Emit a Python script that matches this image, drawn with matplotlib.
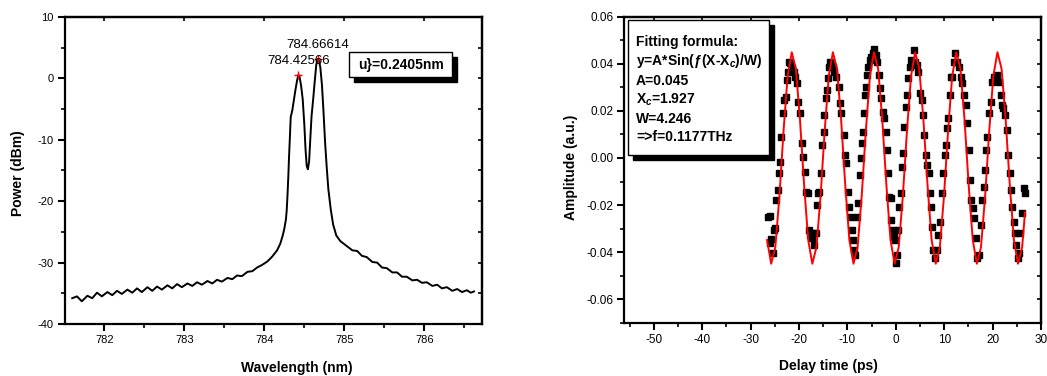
import matplotlib
matplotlib.use("Agg")
import matplotlib.pyplot as plt
from matplotlib.patches import Rectangle
from matplotlib.ticker import MultipleLocator

plt.rcParams['font.family'] = ['Liberation Sans', 'DejaVu Sans']
plt.rcParams['axes.unicode_minus'] = False
plt.rcParams['mathtext.fontset'] = 'custom'
plt.rcParams['mathtext.rm'] = 'Liberation Sans:bold'
plt.rcParams['mathtext.bf'] = 'Liberation Sans:bold'
plt.rcParams['mathtext.it'] = 'Liberation Sans:bold:italic'

# ---------------- data: left panel (optical spectrum) ----------------
wavelength_nm = [
    781.60, 781.66, 781.72, 781.79, 781.85, 781.91, 781.97, 782.04, 782.10, 782.16,
    782.22, 782.29, 782.35, 782.41, 782.47, 782.54, 782.60, 782.66, 782.72, 782.79,
    782.85, 782.91, 782.97, 783.04, 783.10, 783.16, 783.22, 783.29, 783.35, 783.41,
    783.47, 783.54, 783.60, 783.66, 783.72, 783.79, 783.85, 783.91, 783.97, 784.04,
    784.10, 784.16, 784.20, 784.23, 784.25, 784.27, 784.28, 784.29, 784.30, 784.31,
    784.32, 784.33, 784.35, 784.37, 784.39, 784.41, 784.426, 784.44, 784.46, 784.48,
    784.50, 784.515, 784.53, 784.545, 784.56, 784.575, 784.59, 784.61, 784.63, 784.65,
    784.666, 784.685, 784.70, 784.72, 784.74, 784.76, 784.78, 784.80, 784.83, 784.86,
    784.90, 784.95, 785.00, 785.05, 785.10, 785.16, 785.22, 785.28, 785.35, 785.41,
    785.47, 785.53, 785.60, 785.66, 785.72, 785.78, 785.85, 785.91, 785.97, 786.03,
    786.10, 786.16, 786.22, 786.28, 786.35, 786.41, 786.47, 786.53, 786.58, 786.62,
]
power_dbm = [
    -35.8, -35.5, -36.3, -35.4, -35.8, -34.9, -35.5, -34.8, -35.3, -34.6,
    -35.1, -34.4, -34.9, -34.2, -34.8, -34.0, -34.6, -33.9, -34.4, -33.7,
    -34.2, -33.5, -34.0, -33.4, -33.8, -33.2, -33.6, -33.0, -33.4, -32.8,
    -33.1, -32.5, -32.7, -32.1, -32.2, -31.5, -31.4, -30.8, -30.4, -29.8,
    -29.0, -28.0, -26.9, -25.6, -24.5, -23.0, -21.5, -19.0, -16.0, -12.5,
    -9.5, -6.3, -5.2, -3.5, -1.8, -0.3, 0.6, 0.3, -1.2, -3.4,
    -7.5, -11.5, -14.3, -14.8, -13.5, -9.8, -6.2, -3.5, -0.5, 2.3,
    3.1, 2.8, 1.8, -1.0, -5.5, -10.5, -14.5, -18.0, -21.3, -23.8,
    -25.6, -26.5, -27.0, -27.5, -28.0, -28.1, -28.9, -29.1, -29.9, -30.0,
    -30.8, -30.9, -31.6, -31.6, -32.3, -32.3, -32.9, -32.8, -33.3, -33.2,
    -33.8, -33.6, -34.2, -34.0, -34.6, -34.3, -34.8, -34.5, -34.9, -34.7,
]
peak_wavelengths = [784.42566, 784.66614]
peak_powers = [0.6, 3.1]
peak_labels = ["784.42566", "784.66614"]
spacing_label = "u}=0.2405nm"

# ---------------- data: right panel (THz interferogram) ----------------
delay_ps = [
    -26.48, -26.06, -26.06, -25.79, -25.37, -25.23, -24.89, -24.68, -24.41, -24.20,
    -23.85, -23.72, -23.37, -23.03, -22.75, -22.47, -22.27, -22.06, -21.78, -21.44,
    -21.09, -20.89, -20.40, -20.20, -19.85, -19.44, -19.16, -18.82, -18.47, -18.20,
    -17.99, -17.64, -17.30, -17.09, -16.81, -16.54, -16.26, -16.06, -15.78, -15.50,
    -15.23, -14.88, -14.74, -14.47, -14.19, -13.99, -13.78, -13.50, -13.30, -12.95,
    -12.67, -12.40, -11.78, -11.57, -11.29, -10.74, -10.40, -10.19, -9.91, -9.71,
    -9.36, -9.15, -8.81, -8.67, -8.46, -8.12, -7.77, -7.50, -7.29, -7.08,
    -6.81, -6.60, -6.32, -6.12, -5.91, -5.70, -5.36, -5.08, -4.81, -4.46,
    -4.19, -3.84, -3.50, -3.29, -3.01, -2.74, -2.46, -2.11, -1.91, -1.63,
    -1.36, -1.08, -0.94, -0.67, -0.39, -0.18, -0.05, 0.30, 0.51, 0.71,
    0.99, 1.20, 1.54, 1.68, 2.03, 2.37, 2.58, 2.92, 3.20, 3.75,
    3.96, 4.30, 4.65, 4.99, 5.34, 5.54, 5.82, 6.17, 6.51, 6.79,
    7.06, 7.34, 7.55, 7.75, 8.10, 8.44, 8.79, 9.13, 9.48, 9.82,
    10.10, 10.44, 10.65, 10.86, 11.20, 11.48, 11.69, 12.03, 12.31, 12.58,
    13.07, 13.41, 13.76, 14.10, 14.45, 14.79, 15.14, 15.34, 15.62, 15.90,
    16.17, 16.52, 16.86, 17.21, 17.55, 17.90, 18.24, 18.45, 18.73, 18.93,
    19.28, 19.62, 19.90, 20.31, 20.66, 21.00, 21.35, 21.69, 21.90, 22.24,
    22.59, 22.93, 23.21, 23.62, 23.76, 24.11, 24.32, 24.59, 24.87, 25.15,
    25.42, 25.70, 26.04, 26.39, 26.66,
]
amplitude = [
    -0.0252, -0.0246, -0.0362, -0.0345, -0.0405, -0.0306, -0.0299, -0.0178, -0.0136, -0.0065,
    -0.0016, 0.0091, 0.0190, 0.0246, 0.0260, 0.0331, 0.0366, 0.0409, 0.0402, 0.0381,
    0.0366, 0.0345, 0.0317, 0.0239, 0.0190, 0.0062, 0.0006, -0.0058, -0.0143, -0.0150,
    -0.0306, -0.0327, -0.0341, -0.0320, -0.0369, -0.0320, -0.0200, -0.0150, -0.0143, -0.0065,
    0.0055, 0.0112, 0.0183, 0.0253, 0.0289, 0.0338, 0.0388, 0.0409, 0.0395, 0.0388,
    0.0366, 0.0345, 0.0303, 0.0232, 0.0190, 0.0098, 0.0013, -0.0023, -0.0143, -0.0207,
    -0.0249, -0.0306, -0.0348, -0.0391, -0.0412, -0.0249, -0.0192, -0.0072, -0.0001, 0.0065,
    0.0112, 0.0190, 0.0267, 0.0300, 0.0352, 0.0388, 0.0416, 0.0430, 0.0444, 0.0461,
    0.0437, 0.0409, 0.0352, 0.0296, 0.0253, 0.0197, 0.0168, 0.0112, 0.0034, -0.0065,
    -0.0164, -0.0171, -0.0263, -0.0306, -0.0334, -0.0348, -0.0447, -0.0412, -0.0306, -0.0207,
    -0.0150, -0.0037, 0.0020, 0.0133, 0.0218, 0.0267, 0.0338, 0.0388, 0.0416, 0.0458,
    0.0409, 0.0395, 0.0366, 0.0275, 0.0246, 0.0183, 0.0098, 0.0013, -0.0030, -0.0065,
    -0.0150, -0.0207, -0.0291, -0.0391, -0.0426, -0.0391, -0.0327, -0.0270, -0.0150, -0.0065,
    0.0013, 0.0055, 0.0126, 0.0168, 0.0267, 0.0345, 0.0345, 0.0409, 0.0444, 0.0409,
    0.0388, 0.0345, 0.0317, 0.0267, 0.0225, 0.0147, 0.0034, -0.0093, -0.0178, -0.0214,
    -0.0256, -0.0341, -0.0426, -0.0412, -0.0284, -0.0178, -0.0122, -0.0051, 0.0034, 0.0091,
    0.0190, 0.0239, 0.0324, 0.0345, 0.0331, 0.0352, 0.0324, 0.0267, 0.0225, 0.0211,
    0.0183, 0.0119, 0.0013, -0.0065, -0.0136, -0.0207, -0.0270, -0.0320, -0.0369, -0.0426,
    -0.0405, -0.0320, -0.0235, -0.0129, -0.0150,
]
fit_delay_ps = [
    -26.60, -25.75, -24.90, -24.05, -23.20, -22.35, -21.50, -20.65, -19.80, -18.95,
    -18.10, -17.25, -16.40, -15.55, -14.70, -13.85, -13.00, -12.15, -11.30, -10.45,
    -9.60, -8.75, -7.90, -7.05, -6.20, -5.35, -4.50, -3.65, -2.80, -1.95,
    -1.10, -0.25, 0.60, 1.45, 2.30, 3.15, 4.00, 4.85, 5.70, 6.55,
    7.40, 8.25, 9.10, 9.95, 10.80, 11.65, 12.50, 13.35, 14.20, 15.05,
    15.90, 16.75, 17.60, 18.45, 19.30, 20.15, 21.00, 21.85, 22.70, 23.55,
    24.40, 25.25, 26.10, 26.70,
]
fit_amplitude = [
    -0.0348, -0.0449, -0.0379, -0.0163, 0.0114, 0.0348, 0.0449, 0.0379, 0.0163, -0.0114,
    -0.0348, -0.0449, -0.0379, -0.0163, 0.0114, 0.0348, 0.0449, 0.0379, 0.0163, -0.0114,
    -0.0348, -0.0449, -0.0379, -0.0163, 0.0114, 0.0348, 0.0449, 0.0379, 0.0163, -0.0114,
    -0.0348, -0.0449, -0.0379, -0.0163, 0.0114, 0.0348, 0.0449, 0.0379, 0.0163, -0.0114,
    -0.0348, -0.0449, -0.0379, -0.0163, 0.0114, 0.0348, 0.0449, 0.0379, 0.0163, -0.0114,
    -0.0348, -0.0449, -0.0379, -0.0163, 0.0114, 0.0348, 0.0449, 0.0379, 0.0163, -0.0114,
    -0.0348, -0.0449, -0.0379, -0.0230,
]
fit_text_lines = [
    "Fitting formula:",
    "y=A*Sin(ƒ(X-X$_{c}$)/W)",
    "A=0.045",
    "X$_{c}$=1.927",
    "W=4.246",
    "=>f=0.1177THz",
]

# ---------------- figure ----------------
W, H = 1047, 376
fig = plt.figure(figsize=(W / 100, H / 100), dpi=100)


def fr(x0, y0, x1, y1):
    """pixel box (top-left origin) -> figure fraction [l, b, w, h]"""
    return [x0 / W, 1 - y1 / H, (x1 - x0) / W, (y1 - y0) / H]


def style_axes(ax, major_x, minor_x, major_y, minor_y, tick_fs):
    for s in ax.spines.values():
        s.set_linewidth(1.6)
    ax.xaxis.set_major_locator(MultipleLocator(major_x))
    ax.xaxis.set_minor_locator(MultipleLocator(minor_x))
    ax.yaxis.set_major_locator(MultipleLocator(major_y))
    ax.yaxis.set_minor_locator(MultipleLocator(minor_y))
    ax.tick_params(which='major', direction='out', length=5, width=1.5,
                   labelsize=tick_fs, pad=3, top=False, right=False)
    ax.tick_params(which='minor', direction='out', length=3, width=1.2,
                   top=False, right=False)
    sy = ax.secondary_yaxis('right')
    sy.yaxis.set_major_locator(MultipleLocator(major_y))
    sy.yaxis.set_minor_locator(MultipleLocator(minor_y))
    sy.tick_params(which='both', direction='in', length=3, width=1.2, labelright=False)
    sy.spines['right'].set_linewidth(1.6)
    sx = ax.secondary_xaxis('top')
    sx.xaxis.set_major_locator(MultipleLocator(major_x))
    sx.xaxis.set_minor_locator(MultipleLocator(minor_x))
    sx.tick_params(which='major', direction='in', length=3, width=1.2, labeltop=False)
    sx.tick_params(which='minor', length=0, labeltop=False)
    sx.spines['top'].set_linewidth(1.6)


def shadow_box(x0, y0, x1, y1, off=5):
    fig.patches.append(Rectangle((x0 / W + off / W, 1 - (y1 + off) / H),
                                 (x1 - x0) / W, (y1 - y0) / H,
                                 transform=fig.transFigure, facecolor='black',
                                 edgecolor='black', zorder=5))
    fig.patches.append(Rectangle((x0 / W, 1 - y1 / H), (x1 - x0) / W, (y1 - y0) / H,
                                 transform=fig.transFigure, facecolor='white',
                                 edgecolor='black', linewidth=1.0, zorder=6))


# ----- left panel -----
ax1 = fig.add_axes(fr(65, 17, 482, 324))
ax1.plot(wavelength_nm, power_dbm, color='black', linewidth=1.4)
ax1.plot(peak_wavelengths, peak_powers, linestyle='none', marker='+',
         color='red', markersize=6, markeredgewidth=1.0)
ax1.set_xlim(781.51, 786.72)
ax1.set_ylim(-40, 10)
style_axes(ax1, 1, 0.5, 10, 5, 8)
ax1.set_xlabel("Wavelength (nm)", fontsize=10, fontweight='bold')
ax1.set_ylabel("Power (dBm)", fontsize=10, fontweight='bold')
ax1.xaxis.set_label_coords(0.556, -0.122)
ax1.yaxis.set_label_coords(-0.097, 0.492)
ax1.text(784.43, 2.8, peak_labels[0], fontsize=9.5, ha='center', va='center')
ax1.text(784.67, 5.4, peak_labels[1], fontsize=9.5, ha='center', va='center')

shadow_box(349, 52, 452, 77)
fig.text(401 / W, 1 - 64.5 / H, spacing_label, fontsize=10, fontweight='bold',
         ha='center', va='center', zorder=7)

# ----- right panel -----
ax2 = fig.add_axes(fr(624.3, 16.7, 1041, 323.3))
ax2.plot(delay_ps, amplitude, linestyle='none', marker='s', color='black',
         markersize=4.6)
ax2.plot(fit_delay_ps, fit_amplitude, color='red', linewidth=1.4)
ax2.set_xlim(-56.1, 30)
ax2.set_ylim(-0.0702, 0.06)
style_axes(ax2, 10, 5, 0.02, 0.01, 8.5)
ax2.set_xlabel("Delay time (ps)", fontsize=10, fontweight='bold')
ax2.set_ylabel("Amplitude (a.u.)", fontsize=10, fontweight='bold')
ax2.xaxis.set_label_coords(0.489, -0.118)
ax2.yaxis.set_label_coords(-0.111, 0.51)
ax2.yaxis.set_major_formatter(plt.FormatStrFormatter('%.2f'))

shadow_box(628, 20, 769, 155)
line_y = [42, 61, 81, 99.5, 119, 137]
for txt, yy in zip(fit_text_lines, line_y):
    fig.text(636 / W, 1 - yy / H, txt, fontsize=10, fontweight='bold',
             ha='left', va='center', zorder=7)

fig.savefig("out.png", dpi=100)
